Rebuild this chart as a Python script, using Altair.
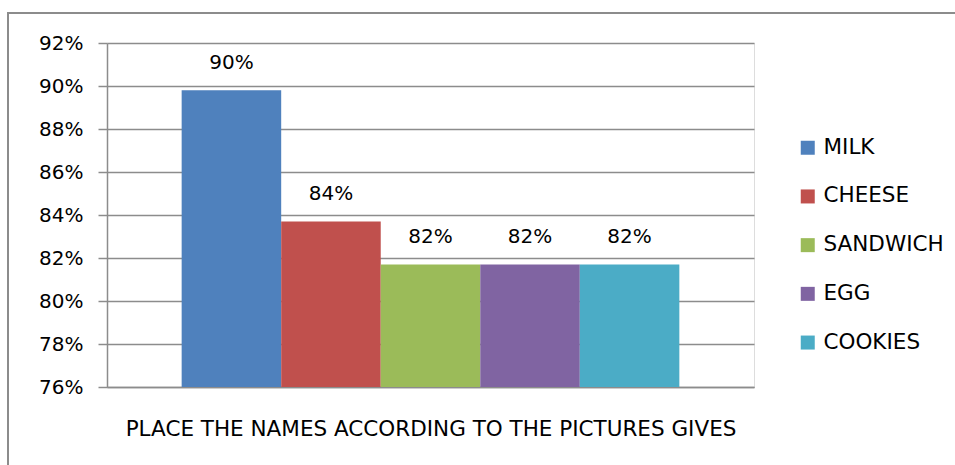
import altair as alt
import pandas as pd

names = ["MILK", "CHEESE", "SANDWICH", "EGG", "COOKIES"]
values = [0.898, 0.837, 0.817, 0.817, 0.817]
colors = ["#4F81BD", "#C0504D", "#9BBB59", "#8064A2", "#4BACC6"]
y_ticks = [0.76, 0.78, 0.80, 0.82, 0.84, 0.86, 0.88, 0.90, 0.92]
x_title = "PLACE THE NAMES ACCORDING TO THE PICTURES GIVES"

df = pd.DataFrame({"name": names, "value": values})

FONT = "DejaVu Sans"
FS_TICK = 20
FS_BIG = 21.5
GRID = "#8C8C8C"

x_enc = alt.X("name:N", sort=names, title=x_title,
              scale=alt.Scale(paddingInner=0, paddingOuter=0.75),
              axis=alt.Axis(labels=False, ticks=False, domain=True, domainColor=GRID,
                            domainWidth=1.5, titleFont=FONT, titleFontSize=FS_BIG,
                            titleFontWeight="normal", titleColor="#000000",
                            titlePadding=31))
y_scale = alt.Scale(domain=[0.76, 0.92], zero=False, nice=False)

bars = alt.Chart(df).mark_bar().encode(
    x=x_enc,
    y=alt.Y("value:Q", scale=y_scale, title=None,
            axis=alt.Axis(values=y_ticks, format=".0%", grid=True, gridColor=GRID,
                          gridWidth=1.5, domainColor=GRID, domainWidth=1.5,
                          tickColor=GRID, tickWidth=1.5, tickSize=9,
                          labelFont=FONT, labelFontSize=FS_TICK, labelColor="#000000",
                          labelPadding=15)),
    y2=alt.datum(0.76),
    color=alt.Color("name:N", sort=names,
                    scale=alt.Scale(domain=names, range=colors),
                    legend=alt.Legend(title=None, orient="none", legendX=690, legendY=94,
                                      symbolType="square", symbolSize=196,
                                      symbolStrokeWidth=0, labelFont=FONT,
                                      labelFontSize=FS_BIG, labelColor="#000000",
                                      labelOffset=5, rowPadding=25.7)),
)

labels = alt.Chart(df).mark_text(baseline="bottom", dy=-17, font=FONT, fontSize=FS_TICK,
                                  color="#000000").encode(
    x=alt.X("name:N", sort=names),
    y=alt.Y("value:Q", scale=y_scale),
    text=alt.Text("value:Q", format=".0%"),
)

border = alt.Chart(df.head(1)).mark_rect(fill=None, stroke="#8C8C8C", strokeWidth=2).encode(
    x=alt.value(-99), x2=alt.value(853), y=alt.value(-30), y2=alt.value(430)
)

chart = alt.layer(border, bars, labels).properties(
    width=647, height=344,
    autosize=alt.AutoSizeParams(type="none"),
    padding={"left": 107, "top": 43, "right": 201, "bottom": 78},
).configure_view(stroke=None).configure(background="#FFFFFF")

chart.save("out.html", embed_options={"renderer": "svg", "actions": False})
